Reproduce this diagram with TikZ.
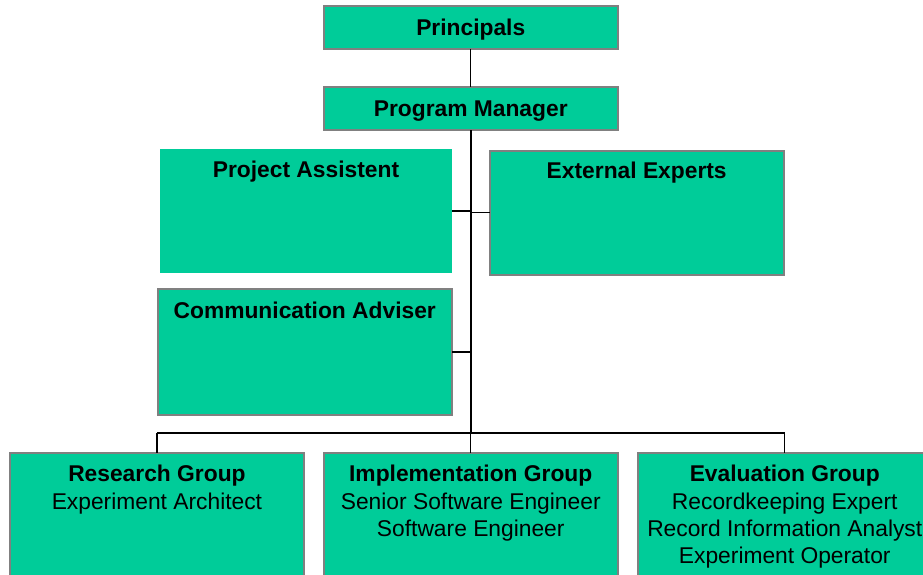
\documentclass[tikz,border=0pt]{standalone}
\usepackage{fontspec}
\setmainfont{Liberation Sans}

\definecolor{rolefill}{HTML}{00CC99}
\definecolor{roleedge}{HTML}{808080}
\newcommand{\orgfont}{\fontsize{22.8}{27.3}\selectfont}

\begin{document}
\begin{tikzpicture}[x=1pt, y=1pt,
    role/.style={rectangle, draw=roleedge, line width=2pt, fill=rolefill, anchor=north west, inner sep=0pt, outer sep=0pt, minimum width=294.5pt},
    bare/.style={rectangle, fill=rolefill, anchor=north west, inner sep=0pt, outer sep=0pt},
    heading/.style={anchor=north, inner sep=0pt, align=center, yshift={19pt-#1}, font=\orgfont, execute at begin node={\rule{0pt}{19pt}}},
    heading/.default=28pt,
    link/.style={draw=black, line width=1.2pt},
    bus/.style={draw=black, line width=2.2pt}
]
    \useasboundingbox (0,0) rectangle (923,575);

    % top of the chart
    \node[role, minimum height=42.5pt, label={[heading=28.5pt]north:\textbf{Principals}}] (principals) at (323.5,568.5) {};
    \node[role, minimum height=43.4pt, label={[heading=30pt]north:\textbf{Program Manager}}] (pm) at (323.5,488.2) {};

    % staff next to the manager
    \node[bare, minimum width=292pt, minimum height=123.7pt, label={[heading]north:\textbf{Project Assistent}}] (assistent) at (160,426) {};
    \node[role, minimum width=294pt, minimum height=124pt, label={[heading]north:\textbf{External Experts}}] (experts) at (489.7,424.3) {};
    \node[role, minimum height=126.3pt, label={[heading=30pt]north:\textbf{Communication Adviser}}] (adviser) at (157.5,286.3) {};

    % groups
    \node[role, minimum height=140pt, label={[heading=31pt]north:{\textbf{Research Group}\\Experiment Architect}}] (research) at (9.7,122) {};
    \node[role, minimum height=140pt, label={[heading=31pt]north:{\textbf{Implementation Group}\\Senior Software Engineer\\Software Engineer}}] (implementation) at (323.5,122) {};
    \node[role, minimum height=140pt, label={[heading=31pt]north:{\textbf{Evaluation Group}\\Recordkeeping Expert\\Record Information Analyst\\Experiment Operator}}] (evaluation) at (637.5,122) {};

    \coordinate (hub) at (pm.south |- 0,142);

    \draw[link] (principals.south) -- (pm.north);
    \draw[bus] (pm.south) -- (hub);
    \draw[bus] (assistent.east) -- (assistent.east -| hub);
    \draw[link] (experts.west) -- (experts.west -| hub);
    \draw[bus] (adviser.east) -- (adviser.east -| hub);
    \draw[bus] (research.north |- hub) -- (evaluation.north |- hub);
    \draw[link] (research.north |- hub) -- (research.north);
    \draw[link] (implementation.north |- hub) -- (implementation.north);
    \draw[link] (evaluation.north |- hub) -- (evaluation.north);
\end{tikzpicture}
\end{document}
